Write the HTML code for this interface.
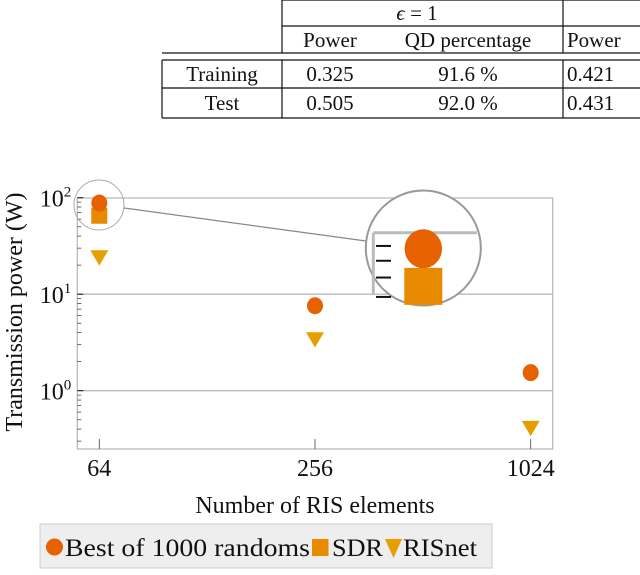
<!DOCTYPE html>
<html><head><meta charset="utf-8"><style>
body{margin:0;background:#fff;width:640px;height:570px;overflow:hidden}
svg, svg text{font-family:"Liberation Serif","DejaVu Serif",serif}
svg text{fill:#111}
</style></head><body>
<svg width="640" height="570" viewBox="0 0 640 570" font-family="Liberation Serif, DejaVu Serif, serif">
<g stroke="#111" stroke-width="1.2">
 <line x1="282" y1="0" x2="640" y2="0"/>
 <line x1="282" y1="26" x2="640" y2="26"/>
 <line x1="162" y1="53" x2="640" y2="53"/>
 <line x1="162" y1="60" x2="640" y2="60"/>
 <line x1="162" y1="88" x2="640" y2="88"/>
 <line x1="162" y1="118" x2="640" y2="118"/>
 <line x1="282" y1="0" x2="282" y2="53"/>
 <line x1="282" y1="60" x2="282" y2="118"/>
 <line x1="563" y1="0" x2="563" y2="53"/>
 <line x1="563" y1="60" x2="563" y2="118"/>
 <line x1="162" y1="60" x2="162" y2="118"/>
</g>
<g font-size="21" text-anchor="middle">
 <text x="417" y="20"><tspan font-style="italic">ϵ</tspan> = 1</text>
 <text x="330" y="47">Power</text>
 <text x="468" y="47">QD percentage</text>
 <text x="567" y="47" text-anchor="start">Power</text>
 <text x="222" y="81">Training</text>
 <text x="330" y="81">0.325</text><text x="468" y="81">91.6 %</text><text x="567" y="81" text-anchor="start">0.421</text>
 <text x="222" y="110">Test</text>
 <text x="330" y="110">0.505</text><text x="468" y="110">92.0 %</text><text x="567" y="110" text-anchor="start">0.431</text>
</g>
<g id="plot"></g>
<text x="315" y="513" font-size="24" text-anchor="middle">Number of RIS elements</text>
<text transform="translate(22,312) rotate(-90)" font-size="24" text-anchor="middle">Transmission power (W)</text>
<g>
 <rect x="40" y="524" width="452" height="44" fill="#eeeeee" stroke="#cccccc"/>
 <circle cx="54.5" cy="547" r="8.5" fill="#E66100"/>
 <text x="65" y="556" font-size="25" textLength="245" lengthAdjust="spacingAndGlyphs">Best of 1000 randoms</text>
 <rect x="312" y="539" width="16.5" height="17" fill="#E88A00"/>
 <text x="332" y="556" font-size="25" textLength="51" lengthAdjust="spacingAndGlyphs">SDR</text>
 <polygon points="385,539 402,539 393.5,558" fill="#E69F00"/>
 <text x="403" y="556" font-size="25" textLength="74" lengthAdjust="spacingAndGlyphs">RISnet</text>
</g>
</svg>
<script>
const categories = [64, 256, 1024];
const randomVals = [88, 7.6, 1.54];
const sdrVals = [65, null, null];
const risnetVals = [24, 3.4, 0.41];
const yTickExps = [0, 1, 2];

const NS = "http://www.w3.org/2000/svg";
const plot = document.getElementById('plot');
const L = 77.3, R = 552.7, T = 198, B = 449;
function xs(i){ return 99.3 + (Math.log2(categories[i]) - 6) / 4 * (530.7 - 99.3); }
function ys(v){ return 390.7 - Math.log10(v) * 96.5; }
function mk(tag, attrs, parent){ const e = document.createElementNS(NS, tag); for (const k in attrs) e.setAttribute(k, attrs[k]); (parent||plot).appendChild(e); return e; }

let box = mk('rect', {x:L, y:T, width:R-L, height:B-T, fill:'none', stroke:'#bbbbbb', 'stroke-width':1.3});


yTickExps.forEach(e => {
  const y = ys(Math.pow(10, e));
  if (e < 2) { let g = mk('line', {x1:L, x2:R, y1:y, y2:y, stroke:'#bbbbbb', 'stroke-width':1.3});
    
     }
  mk('line', {x1:L, x2:L+6, y1:y, y2:y, stroke:'#111', 'stroke-width':1});
  const t = mk('text', {x:L-6, y:y+9, 'font-size':24, 'text-anchor':'end'});
  
  
  t.innerHTML = '10<tspan dy="-10" font-size="15">' + e + '</tspan>';
});
for (let e = -1; e < 2; e++) for (let m = 2; m <= 9; m++) {
  const y = ys(m * Math.pow(10, e));
  if (y > B || y < T) continue;
  mk('line', {x1:L, x2:L+4, y1:y, y2:y, stroke:'#444', 'stroke-width':0.8});
}
categories.forEach((c, i) => {
  mk('line', {x1:xs(i), x2:xs(i), y1:B, y2:B-10, stroke:'#444', 'stroke-width':0.8});
  const t = mk('text', {x:xs(i), y:476, 'font-size':24, 'text-anchor':'middle'});
  
  
  t.textContent = c;
});
function tri(x, y, s, name){ const p = mk('polygon', {points:`${x-s},${y-s*0.8} ${x+s},${y-s*0.8} ${x},${y+s*0.9}`, fill:'#E69F00'});
  
   }
risnetVals.forEach((v, i) => { if (v != null) tri(xs(i), ys(v), 9, 'risnet-point'); });
sdrVals.forEach((v, i) => { if (v == null) return; const p = mk('rect', {x:xs(i)-8, y:ys(v)-8, width:16, height:16, fill:'#E88A00'});
  
   });
randomVals.forEach((v, i) => { if (v == null) return; const p = mk('ellipse', {cx:xs(i), cy:ys(v), rx:8, ry:8.5, fill:'#E66100'});
  
   });

// magnifier
const zc = mk('circle', {cx:99, cy:205, r:25, fill:'none', stroke:'#aaa', 'stroke-width':1});


mk('line', {x1:124, y1:208, x2:366, y2:241, stroke:'#888', 'stroke-width':1.2});
const mg = mk('circle', {cx:423.3, cy:248, r:57.5, fill:'#fff', stroke:'#999', 'stroke-width':2});


const cy0 = ys(100), ix = 423.3, iy = 232.7, sc = 3;
function zy(y){ return iy + (y - cy0) * sc; }
mk('line', {x1:373.3, x2:477, y1:iy, y2:iy, stroke:'#bbb', 'stroke-width':3});
mk('line', {x1:373.3, x2:373.3, y1:iy, y2:294, stroke:'#bbb', 'stroke-width':3});
for (let m = 9; m >= 6; m--) { const y = zy(ys(m * 10)); mk('line', {x1:376, x2:391, y1:y, y2:y, stroke:'#111', 'stroke-width':2}); }
sdrVals.forEach((v, i) => { if (v == null || i !== 0) return; const y = zy(ys(v));
  const p = mk('rect', {x:ix-19, y:y-19, width:38, height:37, fill:'#E88A00'});
  
   });
randomVals.forEach((v, i) => { if (i !== 0) return; const y = zy(ys(v));
  const p = mk('ellipse', {cx:ix, cy:y, rx:18.7, ry:19.5, fill:'#E66100'});
  
   });
</script>
</body></html>
